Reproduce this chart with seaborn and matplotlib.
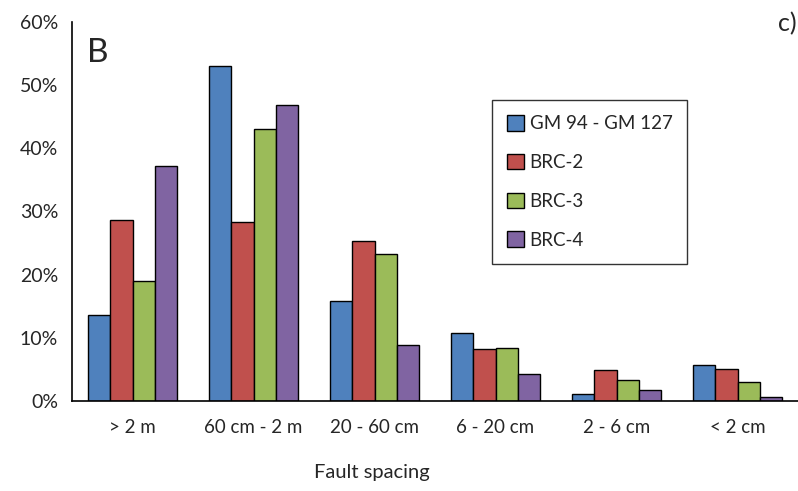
import matplotlib
matplotlib.use("Agg")
import matplotlib.pyplot as plt
import seaborn as sns
import pandas as pd
import numpy as np
from matplotlib.ticker import FuncFormatter, FixedLocator
from matplotlib.patches import Patch

categories = ["> 2 m", "60 cm - 2 m", "20 - 60 cm", "6 - 20 cm", "2 - 6 cm", "< 2 cm"]
series = ["GM 94 - GM 127", "BRC-2", "BRC-3", "BRC-4"]
gm = [13.6, 53.0, 15.8, 10.8, 1.1, 5.7]
brc2 = [28.6, 28.3, 25.3, 8.2, 4.9, 5.1]
brc3 = [19.0, 43.1, 23.2, 8.4, 3.4, 3.0]
brc4 = [37.2, 46.8, 8.9, 4.3, 1.8, 0.7]
colors = ["#4F81BD", "#C0504D", "#9BBB59", "#8064A2"]

rows = []
for s, vals in zip(series, [gm, brc2, brc3, brc4]):
    for c, v in zip(categories, vals):
        rows.append({"cat": c, "series": s, "value": v})
df = pd.DataFrame(rows)

sns.set_style("white")
plt.rcParams['font.family'] = ['Lato', 'DejaVu Sans']

fig = plt.figure(figsize=(7.98, 4.91), dpi=100)
ax = fig.add_axes([72/798, 1-401/491, 1-72/798, (401-22)/491])

sns.barplot(data=df, x="cat", y="value", hue="series", order=categories,
            hue_order=series, palette=colors, width=0.73, edgecolor="black",
            linewidth=1.0, saturation=1, ax=ax, legend=False)

ax.set_xlim(-0.5, 5.5)
ax.set_ylim(0, 60)
ax.set_yticks(np.arange(0, 61, 10))
ax.yaxis.set_major_formatter(FuncFormatter(lambda v, p: f"{int(v)}%"))
ax.set_xticks(range(len(categories)))
ax.set_xticklabels(categories)
ax.xaxis.set_minor_locator(FixedLocator(np.arange(-0.5, 5.6, 1)))
ax.tick_params(axis="x", which="major", length=0, pad=13, labelsize=13.5)
ax.tick_params(axis="x", which="minor", length=6, width=1.2, direction="out", color="black")
ax.tick_params(axis="y", length=6, width=1.2, direction="out", labelsize=14, pad=4, color="black")
for sp in ["top", "right"]:
    ax.spines[sp].set_visible(False)
for sp in ["left", "bottom"]:
    ax.spines[sp].set_color("black")
    ax.spines[sp].set_linewidth(1.2)
ax.set_xlabel("Fault spacing", fontsize=14.5)
ax.xaxis.set_label_coords((372-72)/(798-72), -0.165)
ax.set_ylabel("")

handles = [Patch(facecolor=c, edgecolor="black", linewidth=1.0) for c in colors]
leg = ax.legend(handles, series, loc="upper left", bbox_to_anchor=((492-72)/726, (401-100)/379),
                fontsize=13.5, frameon=True, fancybox=False, edgecolor="black",
                labelspacing=1.15, handlelength=0.9, handleheight=0.9, handletextpad=0.3,
                borderpad=0.8, borderaxespad=0)
leg.get_frame().set_linewidth(1.0)

fig.text(87/798, 1-53/491, "B", fontsize=24, va="center", ha="left")
fig.text(797/798, 1-24/491, "c)", fontsize=18, va="center", ha="right")

fig.savefig("out.png", dpi=100)
